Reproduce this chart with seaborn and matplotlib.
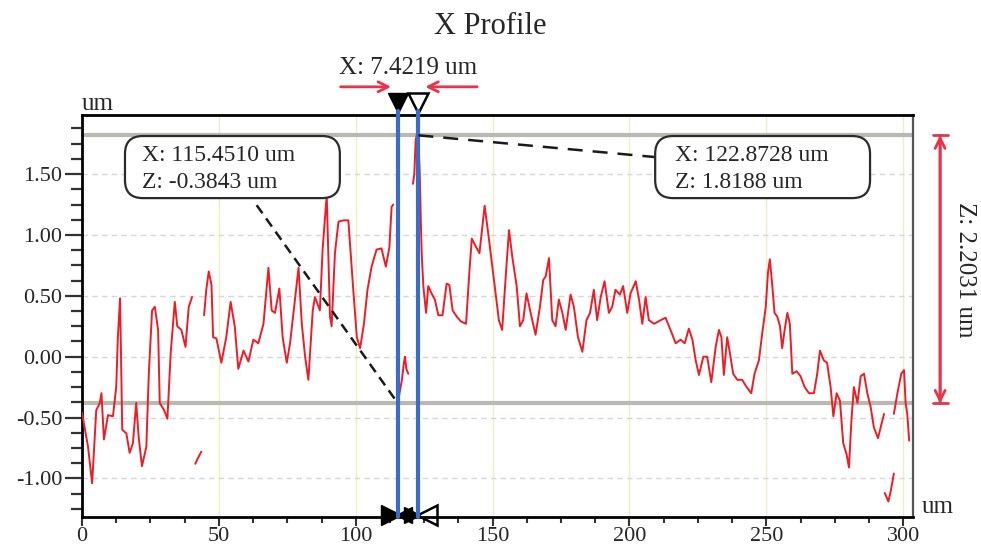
import numpy as np
import pandas as pd
import seaborn as sns
import matplotlib.pyplot as plt
from matplotlib.patches import FancyBboxPatch
from matplotlib.ticker import MultipleLocator, FormatStrFormatter

# profile segments (x in um, z in um)
seg_a = [(0, -0.46), (2.2, -0.74), (3.7, -1.04), (5.2, -0.44), (6.5, -0.38), (7.1, -0.30),
         (8.0, -0.68), (9.5, -0.48), (11.3, -0.49), (12.5, -0.25), (13.1, 0.16), (13.9, 0.48),
         (14.7, -0.60), (16.2, -0.63), (17.4, -0.79), (18.6, -0.71), (19.8, -0.38), (20.7, -0.66),
         (21.9, -0.90), (23.5, -0.74), (24.4, -0.14), (25.6, 0.38), (26.6, 0.41), (27.8, 0.22),
         (28.4, -0.38), (30.0, -0.44), (31.2, -0.51), (32.4, 0.03), (33.9, 0.45), (34.8, 0.25),
         (36.3, 0.22), (37.8, 0.08), (39.0, 0.41), (40.2, 0.49)]
seg_b = [(41.4, -0.88), (42.2, -0.84), (43.6, -0.78)]
seg_c = [(44.6, 0.34), (45.4, 0.55), (46.3, 0.70), (47.3, 0.59), (47.9, 0.16), (49.1, 0.15),
         (50.9, -0.05), (52.7, 0.16), (54.3, 0.45), (55.8, 0.25), (57.1, -0.10), (59.0, 0.05),
         (60.8, -0.04), (62.6, 0.14), (64.4, 0.11), (66.3, 0.27), (68.1, 0.73), (69.3, 0.38),
         (70.5, 0.36), (72.1, 0.56), (73.3, 0.16), (74.8, -0.05), (76.0, 0.11), (77.8, 0.47),
         (79.1, 0.73), (80.3, 0.27), (81.5, 0.00), (82.7, -0.19), (84.3, 0.38), (85.1, 0.49),
         (86.9, 0.38), (87.9, 0.88), (89.4, 1.33), (90.6, 0.33), (91.2, 0.25), (92.4, 0.85),
         (93.7, 1.11), (95.5, 1.12), (97.3, 1.12), (99.1, 0.55), (100.4, 0.16), (101.6, 0.07),
         (103.0, 0.27), (104.3, 0.55), (105.8, 0.74), (107.6, 0.88), (109.4, 0.89), (111.0, 0.74),
         (112.3, 0.90), (113.1, 1.23), (113.7, 1.25)]
seg_d = [(115.0, -0.10), (115.3, -0.30), (115.45, -0.3843), (116.0, -0.30), (116.8, -0.20),
         (117.6, -0.05), (118.0, 0.00), (118.5, -0.10), (119.2, -0.14)]
seg_e = [(120.9, 1.42), (121.4, 1.50), (121.9, 1.78), (122.4, 1.83), (122.87, 1.8188),
         (123.4, 1.50), (123.8, 1.10), (124.1, 0.85), (124.7, 0.58), (125.7, 0.36), (126.5, 0.58),
         (127.7, 0.52), (128.9, 0.47), (130.2, 0.34), (131.7, 0.34), (133.2, 0.60), (134.2, 0.59),
         (135.4, 0.38), (136.9, 0.33), (138.4, 0.29), (140.3, 0.27), (141.5, 0.69), (142.4, 0.97),
         (144.0, 0.90), (145.2, 0.85), (147.1, 1.24), (148.7, 0.96), (150.5, 0.63), (152.3, 0.30),
         (153.5, 0.22), (154.8, 0.66), (156.0, 1.04), (157.2, 0.82), (158.8, 0.58), (160.0, 0.25),
         (161.2, 0.30), (162.4, 0.52), (163.9, 0.36), (165.7, 0.18), (167.3, 0.41), (168.5, 0.63),
         (169.4, 0.66), (170.6, 0.81), (171.8, 0.30), (173.0, 0.25), (174.2, 0.47), (175.5, 0.36),
         (176.7, 0.22), (178.5, 0.51), (179.7, 0.41), (181.2, 0.16), (182.8, 0.04), (184.3, 0.30),
         (185.6, 0.36), (187.0, 0.55), (188.2, 0.30), (189.5, 0.49), (190.9, 0.62), (192.5, 0.36),
         (193.7, 0.41), (194.9, 0.55), (196.5, 0.51), (197.7, 0.58), (199.2, 0.36), (200.4, 0.52),
         (202.3, 0.62), (203.5, 0.47), (204.7, 0.27), (205.9, 0.49), (207.1, 0.30), (209.0, 0.27),
         (211.4, 0.30), (213.2, 0.32), (215.0, 0.22), (216.9, 0.11), (218.7, 0.14), (220.2, 0.11),
         (221.7, 0.23), (223.0, 0.14), (224.2, -0.03), (225.4, -0.15), (227.0, 0.00), (228.4, 0.00),
         (229.9, -0.21), (231.5, 0.08), (232.7, 0.22), (233.6, 0.16), (234.5, -0.15), (235.7, 0.16),
         (236.7, 0.03), (237.9, -0.14), (239.4, -0.19), (241.2, -0.19), (242.8, -0.25), (244.5, -0.30),
         (245.7, -0.14), (247.3, -0.03), (248.5, 0.19), (249.8, 0.41), (250.6, 0.69), (251.3, 0.80),
         (252.2, 0.58), (253.0, 0.36), (254.0, 0.33), (255.0, 0.25), (255.8, 0.07), (256.7, 0.22),
         (257.7, 0.36), (258.6, 0.27), (259.5, -0.14), (261.1, -0.12), (262.5, -0.16), (264.0, -0.25),
         (265.6, -0.30), (267.4, -0.30), (268.6, -0.14), (269.6, 0.05), (271.0, -0.03), (272.2, -0.05),
         (273.5, -0.25), (274.5, -0.49), (275.7, -0.30), (276.9, -0.36), (278.1, -0.71), (279.3, -0.80),
         (280.2, -0.91), (281.1, -0.52), (282.0, -0.25), (283.3, -0.38), (284.5, -0.16), (285.7, -0.14),
         (286.9, -0.30), (288.1, -0.41), (289.3, -0.58), (290.8, -0.67), (291.8, -0.58), (293.0, -0.47)]
seg_f = [(293.3, -1.12), (294.6, -1.19), (295.5, -1.10), (296.6, -0.96)]
seg_g = [(296.6, -0.47), (297.9, -0.30), (299.3, -0.14), (300.3, -0.11), (300.9, -0.38),
         (301.5, -0.47), (302.2, -0.69)]
segments = [seg_a, seg_b, seg_c, seg_d, seg_e, seg_f, seg_g]

# cursor readings
cursor1 = (115.4510, -0.3843)
cursor2 = (122.8728, 1.8188)
dx = 7.4219
dz = 2.2031

xmax, ymin, ymax = 303.6, -1.317, 1.986

rows = []
for i, seg in enumerate(segments):
    for x, z in seg:
        rows.append({"x": x, "z": z, "seg": i})
df = pd.DataFrame(rows)

sns.set_theme(style="white")
plt.rcParams["font.family"] = ["Liberation Serif", "DejaVu Serif"]

fig = plt.figure(figsize=(9.81, 5.48), dpi=100)
ax = fig.add_axes([0.0836, 0.0566, 0.8471, 0.7336])

ax.grid(axis="y", color="#d6d6de", ls=(0, (4, 3)), lw=1)
ax.grid(axis="x", color="#efecc8", lw=1)

ax.axhline(cursor2[1], color="#b9b9b1", lw=3, zorder=1)
ax.axhline(cursor1[1], color="#b9b9b1", lw=3, zorder=1)

sns.lineplot(data=df, x="x", y="z", units="seg", estimator=None, sort=False,
             color="#ee1c25", lw=1.4, ax=ax, legend=False, zorder=3)

xt = ax.get_xaxis_transform()
for cx in (cursor1[0], cursor2[0]):
    ax.plot([cx, cx], [0, 1.01], transform=xt, color="#3a6cc8", lw=3, clip_on=False, zorder=4)

# cursor markers top
ax.plot(cursor1[0], 1.03, marker="v", ms=15, color="black", transform=xt, clip_on=False)
ax.plot(cursor2[0], 1.03, marker="v", ms=14, mfc="white", mec="black", mew=1.8,
        transform=xt, clip_on=False)
# cursor markers bottom
ax.plot(cursor1[0] - 2.6, 0.005, marker=">", ms=14, color="black", transform=xt, clip_on=False)
ax.plot(cursor1[0] + 2.3, 0.005, marker="<", ms=11, color="black", transform=xt, clip_on=False)
ax.plot(cursor2[0] - 2.3, 0.005, marker=">", ms=11, color="black", transform=xt, clip_on=False)
ax.plot(cursor2[0] + 3.0, 0.005, marker="<", ms=14, mfc="white", mec="black", mew=1.8,
        transform=xt, clip_on=False)

# X distance arrows
red = "#e8334a"
ax.annotate("", xy=(cursor1[0] - 1.5, 1.07), xytext=(cursor1[0] - 22, 1.07), xycoords=xt,
            textcoords=xt, annotation_clip=False,
            arrowprops=dict(arrowstyle="->,head_length=0.6,head_width=0.3", color=red, lw=2))
ax.annotate("", xy=(cursor2[0] + 1.5, 1.07), xytext=(cursor2[0] + 22.5, 1.07), xycoords=xt,
            textcoords=xt, annotation_clip=False,
            arrowprops=dict(arrowstyle="->,head_length=0.6,head_width=0.3", color=red, lw=2))
ax.text((cursor1[0] + cursor2[0]) / 2, 1.117, f"X: {dx:.4f} um", transform=xt,
        ha="center", va="center", fontsize=18)

# Z distance arrow
zx = 313.5
for style in ("<->,head_length=0.6,head_width=0.3", "|-|,widthA=0.45,widthB=0.45"):
    ax.annotate("", xy=(zx, cursor1[1]), xytext=(zx, cursor2[1]), annotation_clip=False,
                arrowprops=dict(arrowstyle=style, color=red, lw=2, shrinkA=0, shrinkB=0))
ax.text(322.6, (cursor1[1] + cursor2[1]) / 2, f"Z: {dz:.4f} um", rotation=270,
        ha="center", va="center", fontsize=18, clip_on=False)

# callout boxes
aspect = ((ymax - ymin) / 402) / (xmax / 831)
for x0, (cx, cz), lx in ((15.7, cursor1, 21.9), (209.4, cursor2, 216.7)):
    box = FancyBboxPatch((x0, 1.303), 78.5, 0.51, boxstyle="round,pad=0,rounding_size=6.5",
                         mutation_aspect=aspect, fc="white", ec="#2b2b2b", lw=1.6, zorder=5)
    ax.add_patch(box)
    ax.text(lx, 1.656, f"X: {cx:.4f} um", ha="left", va="center", fontsize=17, zorder=6)
    ax.text(lx, 1.434, f"Z: {cz:.4f} um", ha="left", va="center", fontsize=17, zorder=6)

ax.plot([63.8, cursor1[0]], [1.245, cursor1[1]], color="#1a1a1a", lw=1.8,
        ls=(0, (4, 2.5)), zorder=4)
ax.plot([cursor2[0], 209.4], [cursor2[1], 1.64], color="#1a1a1a", lw=1.8,
        ls=(0, (6, 4)), zorder=4)

ax.set_xlim(0, xmax)
ax.set_ylim(ymin, ymax)
ax.xaxis.set_major_locator(MultipleLocator(50))
ax.xaxis.set_minor_locator(MultipleLocator(12.5))
ax.yaxis.set_major_locator(MultipleLocator(0.5))
ax.yaxis.set_minor_locator(MultipleLocator(0.125))
ax.yaxis.set_major_formatter(FormatStrFormatter("%.2f"))
ax.tick_params(axis="y", which="major", direction="out", length=12, width=1.6, pad=2,
               labelsize=16, left=True, color="#333")
ax.tick_params(axis="y", which="minor", direction="out", length=8, width=1.6, left=True, color="#333")
ax.tick_params(axis="x", which="major", direction="out", length=6.5, width=1.5, pad=1,
               labelsize=16, bottom=True, color="#333")
ax.tick_params(axis="x", which="minor", direction="out", length=4, width=1.5, bottom=True, color="#333")
ax.set_xlabel("")
ax.set_ylabel("")
for side in ("left", "bottom", "top"):
    ax.spines[side].set_color("black")
    ax.spines[side].set_linewidth(2)
ax.spines["right"].set_color("#555555")
ax.spines["right"].set_linewidth(1.6)

fig.text(0.5, 0.951, "X Profile", ha="center", va="center", fontsize=22)
fig.text(0.0836, 0.799, "um", ha="left", va="baseline", fontsize=18)
fig.text(0.94, 0.064, "um", ha="left", va="baseline", fontsize=18)

fig.savefig("out.png", dpi=100)
